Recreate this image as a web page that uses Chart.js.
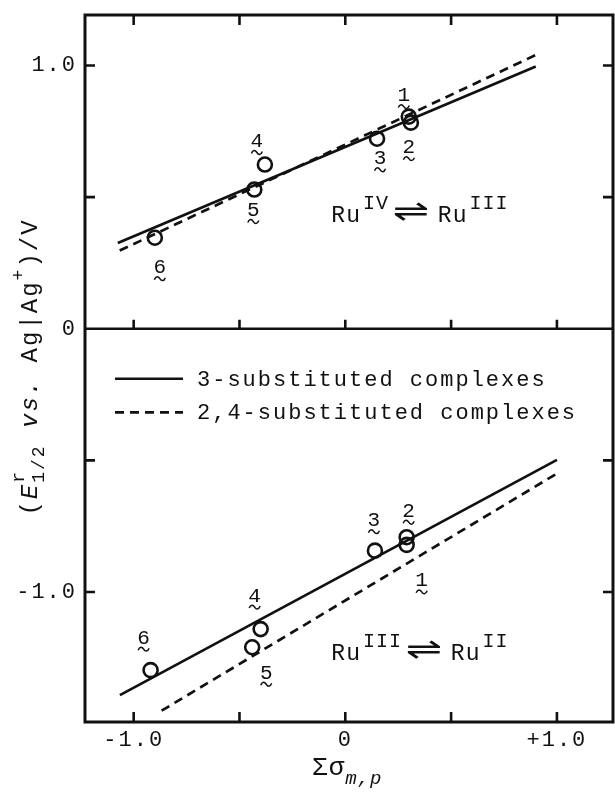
<!DOCTYPE html>
<html>
<head>
<meta charset="utf-8">
<script src="https://cdn.jsdelivr.net/npm/chart.js@4.4.1/dist/chart.umd.min.js"></script>
<style>
html,body{margin:0;padding:0;background:#ffffff;overflow:hidden;}
canvas{display:block;}
</style>
</head>
<body>
<canvas id="chart" width="615" height="798"></canvas>
<script>
// ---------- data ----------
const compoundLabels = ['1', '2', '3', '4', '5', '6'];
// Ru(IV)/Ru(III) couple (upper part)
const sigmaUpper = [0.30, 0.31, 0.15, -0.38, -0.43, -0.90];
const e12Upper   = [0.806, 0.783, 0.722, 0.624, 0.529, 0.346];
// Ru(III)/Ru(II) couple (lower part)
const sigmaLower = [0.29, 0.29, 0.14, -0.40, -0.44, -0.92];
const e12Lower   = [-0.821, -0.792, -0.843, -1.141, -1.210, -1.297];
// correlation lines (end points)
const line3UpperX  = [-1.075, 0.90];
const line3UpperY  = [0.326, 0.996];
const line24UpperX = [-1.066, 0.90];
const line24UpperY = [0.297, 1.040];
const line3LowerX  = [-1.065, 1.00];
const line3LowerY  = [-1.392, -0.498];
const line24LowerX = [-0.868, 1.00];
const line24LowerY = [-1.451, -0.550];
// axes
const xTickValues = [-1.0, -0.5, 0, 0.5, 1.0];
const xTickLabels = ['-1.0', '', '0', '', '+1.0'];
const yTickValues = [-1.0, -0.5, 0, 0.5, 1.0];
const yTickLabels = ['-1.0', '', '0', '', '1.0'];
const seriesNames = ['3-substituted complexes', '2,4-substituted complexes'];
const upperCouple = ['Ru', 'IV', 'Ru', 'III'];
const lowerCouple = ['Ru', 'III', 'Ru', 'II'];

// ---------- layout / style (not data) ----------
const AXIS = { xMin: -1.23, xMax: 1.265, yMin: -1.494, yMax: 1.192 };
const AREA = { left: 85, right: 613, top: 15, bottom: 722 };
const FONT = '"Liberation Mono","DejaVu Sans Mono",monospace';
const SPACING = '2px';
const INK = '#111111';
// digit-label offsets (px) from each point, same order as compoundLabels
const upperLabelOffsets = [[-5, -21], [-2, 25], [3, 20], [-8, -23], [-1, 21], [5, 30]];
const lowerLabelOffsets = [[15, 36], [2, -26], [-1, -30], [-6, -33], [14, 26], [-7, -32]];

function pts(xs, ys) { return xs.map((x, i) => ({ x: x, y: ys[i] })); }
function font(size, italic) { return (italic ? 'italic ' : '') + size + 'px ' + FONT; }

// rich text: parts {t,size,italic,dy,noAdvance,font,sx,gap}
function partWidth(ctx, p) {
  if (p.gap) return p.gap;
  ctx.font = p.font || font(p.size, p.italic);
  return ctx.measureText(p.t).width * (p.sx || 1);
}
function richWidth(ctx, parts) {
  let w = 0;
  parts.forEach(p => { if (!p.noAdvance) w += partWidth(ctx, p); });
  return w;
}
function drawRich(ctx, parts, x, y) {
  let cx = x;
  parts.forEach(p => {
    const w = partWidth(ctx, p);
    if (!p.gap) {
      ctx.font = p.font || font(p.size, p.italic);
      if (p.sx) {
        ctx.save();
        ctx.translate(cx, y + (p.dy || 0));
        ctx.scale(p.sx, 1);
        ctx.fillText(p.t, 0, 0);
        ctx.restore();
      } else {
        ctx.fillText(p.t, cx, y + (p.dy || 0));
      }
    }
    if (!p.noAdvance) cx += w;
  });
}

function squiggle(ctx, cx, cy) {
  ctx.beginPath();
  ctx.moveTo(cx - 5.5, cy + 1);
  ctx.bezierCurveTo(cx - 4, cy - 3, cx - 1.5, cy - 2.5, cx, cy);
  ctx.bezierCurveTo(cx + 1.5, cy + 2.5, cx + 4, cy + 3, cx + 5.5, cy - 1);
  ctx.stroke();
}

const spacingPlugin = {
  id: 'spacing',
  beforeUpdate(chart) { chart.ctx.letterSpacing = SPACING; },
  beforeLayout(chart) { chart.ctx.letterSpacing = SPACING; },
  afterLayout(chart) {
    // pin the plot frame to the reference position
    const ca = chart.chartArea;
    Object.assign(ca, AREA);
    ca.width = AREA.right - AREA.left; ca.height = AREA.bottom - AREA.top;
    const xs = chart.scales.x, ys = chart.scales.y;
    xs.left = AREA.left; xs.right = AREA.right; xs.width = AREA.right - AREA.left; xs.top = AREA.bottom;
    xs.configure();
    ys.top = AREA.top; ys.bottom = AREA.bottom; ys.height = AREA.bottom - AREA.top; ys.right = AREA.left;
    ys.configure();
  },
  beforeDraw(chart) { chart.ctx.letterSpacing = SPACING; }
};

const decorPlugin = {
  id: 'decor',
  afterDatasetsDraw(chart) {
    const ctx = chart.ctx;
    const xs = chart.scales.x, ys = chart.scales.y;
    const { left, right, top, bottom } = chart.chartArea;
    ctx.save();
    ctx.letterSpacing = SPACING;
    ctx.strokeStyle = INK;
    ctx.fillStyle = INK;
    ctx.lineCap = 'butt';
    // frame
    ctx.lineWidth = 3;
    ctx.strokeRect(left, top, right - left, bottom - top);
    // divider at 0
    const y0 = ys.getPixelForValue(0);
    ctx.lineWidth = 2.6;
    ctx.beginPath(); ctx.moveTo(left, y0); ctx.lineTo(right, y0); ctx.stroke();
    // inward ticks
    ctx.beginPath();
    xTickValues.forEach(v => {
      const px = xs.getPixelForValue(v);
      ctx.moveTo(px, bottom); ctx.lineTo(px, bottom - 10);
      ctx.moveTo(px, top); ctx.lineTo(px, top + 10);
      ctx.moveTo(px, y0); ctx.lineTo(px, y0 - 9);
    });
    yTickValues.forEach(v => {
      if (v === 0) return;
      const py = ys.getPixelForValue(v);
      ctx.moveTo(left, py); ctx.lineTo(left + 10, py);
      ctx.moveTo(right, py); ctx.lineTo(right - 10, py);
    });
    ctx.stroke();

    // compound number labels with wavy underline
    ctx.textAlign = 'center';
    ctx.textBaseline = 'middle';
    ctx.lineWidth = 1.5;
    ctx.letterSpacing = '0px';
    const drawNums = (sx, sy, offs) => {
      compoundLabels.forEach((lab, i) => {
        const px = xs.getPixelForValue(sx[i]) + offs[i][0];
        const py = ys.getPixelForValue(sy[i]) + offs[i][1];
        ctx.font = font(21, false);
        ctx.fillText(lab, px, py);
        squiggle(ctx, px, py + 11);
      });
    };
    drawNums(sigmaUpper, e12Upper, upperLabelOffsets);
    drawNums(sigmaLower, e12Lower, lowerLabelOffsets);

    // redox couple labels
    ctx.textAlign = 'left';
    ctx.textBaseline = 'alphabetic';
    const couple = (c, xv, yv) => {
      const px = xs.getPixelForValue(xv), py = ys.getPixelForValue(yv);
      ctx.letterSpacing = '1px';
      drawRich(ctx, [
        { t: c[0], size: 23 },
        { gap: 2 },
        { t: c[1], size: 20, dy: -13 },
        { gap: 4 },
        { t: '\u21CC', font: '30px "DejaVu Sans"', dy: -1, sx: 1.45 },
        { gap: 7 },
        { t: c[2], size: 23 },
        { gap: 2 },
        { t: c[3], size: 20, dy: -13 }
      ], px, py);
    };
    couple(upperCouple, -0.066, 0.405);
    couple(lowerCouple, -0.066, -1.257);

    // legend (drawn from the dataset styles)
    const lx0 = left + 30, lx1 = left + 98, tx = left + 112;
    const rows = [ys.getPixelForValue(-0.19), ys.getPixelForValue(-0.318)];
    const dsForLegend = [chart.data.datasets[2], chart.data.datasets[3]];
    ctx.letterSpacing = SPACING;
    ctx.textBaseline = 'middle';
    dsForLegend.forEach((ds, i) => {
      ctx.save();
      ctx.lineWidth = ds.borderWidth;
      ctx.setLineDash(ds.borderDash || []);
      ctx.beginPath(); ctx.moveTo(lx0, rows[i]); ctx.lineTo(lx1, rows[i]); ctx.stroke();
      ctx.restore();
      ctx.font = font(22, false);
      ctx.fillText(seriesNames[i], tx, rows[i] + 1);
    });

    // y-axis title (rotated)
    ctx.save();
    ctx.translate(31, 367);
    ctx.rotate(-Math.PI / 2);
    ctx.textBaseline = 'middle';
    ctx.letterSpacing = SPACING;
    const yParts = [
      { t: '(', size: 24 },
      { t: 'E', size: 24, italic: true },
      { t: 'r', size: 18, dy: -12, noAdvance: true },
      { t: '1/2', size: 18, dy: 8 },
      { t: ' ', size: 24 },
      { t: 'vs.', size: 24, italic: true },
      { t: ' Ag|Ag', size: 24 },
      { t: '+', size: 18, dy: -12 },
      { t: ')/V', size: 24 }
    ];
    const yw = richWidth(ctx, yParts);
    drawRich(ctx, yParts, -yw / 2, 0);
    ctx.restore();

    // x-axis title
    ctx.textBaseline = 'alphabetic';
    ctx.letterSpacing = '1px';
    const xParts = [
      { t: '\u03A3\u03C3', size: 26 },
      { t: 'm,p', size: 19, italic: true, dy: 9 }
    ];
    const xw = richWidth(ctx, xParts);
    drawRich(ctx, xParts, xs.getPixelForValue(0) - xw / 2 + 2, 775);

    ctx.restore();
  }
};

const pointStyle = {
  showLine: false, pointRadius: 7, pointHoverRadius: 7, pointBorderWidth: 2.6,
  pointBackgroundColor: 'rgba(0,0,0,0)', pointBorderColor: INK, borderColor: INK
};
const lineStyle = { showLine: true, pointRadius: 0, pointHoverRadius: 0, borderColor: INK, borderWidth: 2.7, fill: false, tension: 0 };

const chart = new Chart(document.getElementById('chart').getContext('2d'), {
  type: 'scatter',
  data: {
    datasets: [
      Object.assign({ label: 'Ru(IV)/Ru(III)', data: pts(sigmaUpper, e12Upper) }, pointStyle),
      Object.assign({ label: 'Ru(III)/Ru(II)', data: pts(sigmaLower, e12Lower) }, pointStyle),
      Object.assign({ label: seriesNames[0] + ' (IV/III)', data: pts(line3UpperX, line3UpperY) }, lineStyle),
      Object.assign({ label: seriesNames[1] + ' (IV/III)', data: pts(line24UpperX, line24UpperY), borderDash: [9, 6] }, lineStyle),
      Object.assign({ label: seriesNames[0] + ' (III/II)', data: pts(line3LowerX, line3LowerY) }, lineStyle),
      Object.assign({ label: seriesNames[1] + ' (III/II)', data: pts(line24LowerX, line24LowerY), borderDash: [9, 6] }, lineStyle)
    ]
  },
  options: {
    responsive: false,
    animation: false,
    devicePixelRatio: 1,
    layout: { padding: { left: 0, right: 2, top: 15, bottom: 0 } },
    plugins: { legend: { display: false }, tooltip: { enabled: false } },
    scales: {
      x: {
        type: 'linear', min: AXIS.xMin, max: AXIS.xMax,
        afterBuildTicks: s => { s.ticks = xTickValues.map(v => ({ value: v })); },
        afterFit: s => { s.height = 76; s.paddingLeft = 0; s.paddingRight = 0; },
        ticks: {
          autoSkip: false, maxRotation: 0, color: INK, padding: 5,
          font: { family: FONT, size: 22 },
          callback: v => { const i = xTickValues.findIndex(t => Math.abs(t - v) < 1e-9); return i >= 0 ? xTickLabels[i] : ''; }
        },
        grid: { display: false, drawTicks: false },
        border: { display: false }
      },
      y: {
        type: 'linear', min: AXIS.yMin, max: AXIS.yMax,
        afterBuildTicks: s => { s.ticks = yTickValues.map(v => ({ value: v })); },
        afterFit: s => { s.width = 85; s.paddingTop = 0; s.paddingBottom = 0; },
        ticks: {
          autoSkip: false, color: INK, padding: 8,
          font: { family: FONT, size: 22 },
          callback: v => { const i = yTickValues.findIndex(t => Math.abs(t - v) < 1e-9); return i >= 0 ? yTickLabels[i] : ''; }
        },
        grid: { display: false, drawTicks: false },
        border: { display: false }
      }
    }
  },
  plugins: [spacingPlugin, decorPlugin]
});
</script>
</body>
</html>
